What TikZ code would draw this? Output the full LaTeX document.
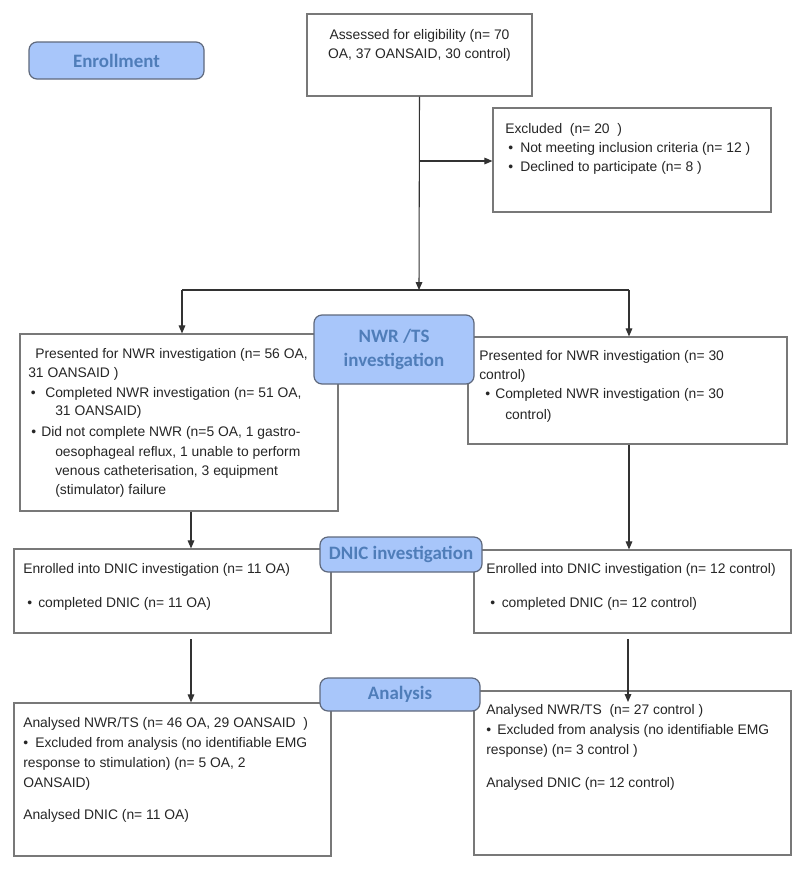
\documentclass[tikz,border=0pt]{standalone}
\usepackage{fontspec}
\setmainfont{Liberation Sans}
\newfontfamily\lblfont{Carlito}
\usetikzlibrary{arrows.meta,fit}
\newdimen\pxu \pxu=0.75pt
\newcommand{\bl}[2]{\makebox[#1\pxu][l]{\textbullet}#2}
\definecolor{lblfill}{RGB}{168,198,250}
\definecolor{lbltext}{RGB}{79,125,185}
\definecolor{lbldraw}{RGB}{95,105,125}
\definecolor{boxdraw}{RGB}{120,120,120}
\definecolor{linec}{RGB}{50,50,50}
\begin{document}
\begin{tikzpicture}[x=0.75pt,y=-0.75pt,
  box/.style={draw=boxdraw, line width=0.9pt, fill=white, inner sep=0pt},
  lbl/.style={draw=lbldraw, fill=lblfill, rounded corners=6pt, line width=0.9pt, inner sep=0pt,
    font=\lblfont\bfseries\fontsize{14.2}{18}\selectfont, text=lbltext, align=center},
  t/.style={anchor=base west, inner sep=0pt, font=\fontsize{10.4}{12}\selectfont, text=black!85},
  tc/.style={t, anchor=base},
  arr/.style={draw=linec, line width=0.8pt, -{Triangle[length=6pt,width=5pt]}},
  ln/.style={draw=linec, line width=0.8pt}]
\path[fill=white, use as bounding box] (0,0) rectangle (800,869);

% boxes
\node[box, fit={(307,14)(532,96)}] (assess) {};
\node[box, fit={(493,108)(771,212)}] (excl) {};
\node[box, fit={(20,334)(338,511)}] (nwrL) {};
\node[box, fit={(468,337)(787,444)}] (nwrR) {};
\node[box, fit={(14,549)(331,633)}] (dnicL) {};
\node[box, fit={(474,550)(791,633)}] (dnicR) {};
\node[box, fit={(14,703)(331,856)}] (anL) {};
\node[box, fit={(474,691)(791,855)}] (anR) {};

% connectors
\coordinate (split) at (419,290);
\coordinate (sL) at (182,290);
\coordinate (sR) at (629,290);
\coordinate (j1) at (419,161);
\coordinate (c1) at (191,0);
\coordinate (c2) at (629,0);
\coordinate (a1) at (191,639);
\coordinate (a2) at (628,639);
\coordinate (a2e) at (628,702);
\draw[arr] (assess.south) -- (split);
\draw[arr] (j1) -- (j1 -| excl.west);
\draw[ln] (sL) -- (sR);
\draw[arr] (sL) -- (sL |- nwrL.north);
\draw[arr] (sR) -- (sR |- nwrR.north);
\draw[arr] (nwrL.south -| c1) -- (dnicL.north -| c1);
\draw[arr] (nwrR.south -| c2) -- (dnicR.north -| c2);
\draw[arr] (a1) -- (a1 |- anL.north);
\draw[arr] (a2) -- (a2e);

% stage labels
\node[lbl, minimum width=131.25pt, minimum height=27.75pt] (enr) at (116.5,60.5) {Enrollment};
\node[lbl, minimum width=120pt, minimum height=51.75pt] (nwrlbl) at (394,349.5) {NWR /TS\\investigation};
\node[lbl, minimum width=121.5pt, minimum height=26.25pt] (dniclbl) at (401,554.5) {DNIC investigation};
\node[lbl, minimum width=120pt, minimum height=24.75pt] (anlbl) at (400,694.5) {Analysis};

% texts
\node[tc] (x1) at (419.5,39) {Assessed for eligibility (n= 70};
\node[tc] (x2) at (419.5,58) {OA, 37 OANSAID, 30 control)};

\node[t] (e1) at (505,133) {Excluded\ \ (n= 20\ \ )};
\node[t] (e2) at (508,152) {\bl{12}{Not meeting inclusion criteria (n= 12 )}};
\node[t] (e3) at (508,171) {\bl{12}{Declined to participate (n= 8 )}};

\node[t] (p1) at (35,358) {Presented for NWR investigation (n= 56 OA,};
\node[t] (p2) at (28,377) {31 OANSAID )};
\node[t] (p3) at (30.7,397) {\bl{14.3}{Completed NWR investigation (n= 51 OA,}};
\node[t] (p4) at (55,415) {31 OANSAID)};
\node[t] (p5) at (31,436) {\bl{10}{Did not complete NWR (n=5 OA, 1 gastro-}};
\node[t] (p6) at (55,456) {oesophageal reflux, 1 unable to perform};
\node[t] (p7) at (55,475) {venous catheterisation, 3 equipment};
\node[t] (p8) at (55,494) {(stimulator) failure};

\node[t] (q1) at (479,360) {Presented for NWR investigation (n= 30};
\node[t] (q2) at (479,379) {control)};
\node[t] (q3) at (485,398) {\bl{10}{Completed NWR investigation (n= 30}};
\node[t] (q4) at (505,419) {control)};

\node[t] (d1) at (23,573) {Enrolled into DNIC investigation (n= 11 OA)};
\node[t] (d2) at (27,607) {\bl{11}{completed DNIC (n= 11 OA)}};
\node[t] (d3) at (486,573) {Enrolled into DNIC investigation (n= 12 control)};
\node[t] (d4) at (490,607) {\bl{11.5}{completed DNIC (n= 12 control)}};

\node[t] (f1) at (23,727) {Analysed NWR/TS (n= 46 OA, 29 OANSAID\ \ )};
\node[t] (f2) at (23,747) {\bl{12}{Excluded from analysis (no identifiable EMG}};
\node[t] (f3) at (23,767) {response to stimulation) (n= 5 OA, 2};
\node[t] (f4) at (23,787) {OANSAID)};
\node[t] (f5) at (23,819) {Analysed DNIC (n= 11 OA)};

\node[t] (g1) at (486,714) {Analysed NWR/TS\ \ (n= 27 control )};
\node[t] (g2) at (486,734) {\bl{11}{Excluded from analysis (no identifiable EMG}};
\node[t] (g3) at (486,754) {response) (n= 3 control )};
\node[t] (g4) at (486,787) {Analysed DNIC (n= 12 control)};
\end{tikzpicture}
\end{document}
